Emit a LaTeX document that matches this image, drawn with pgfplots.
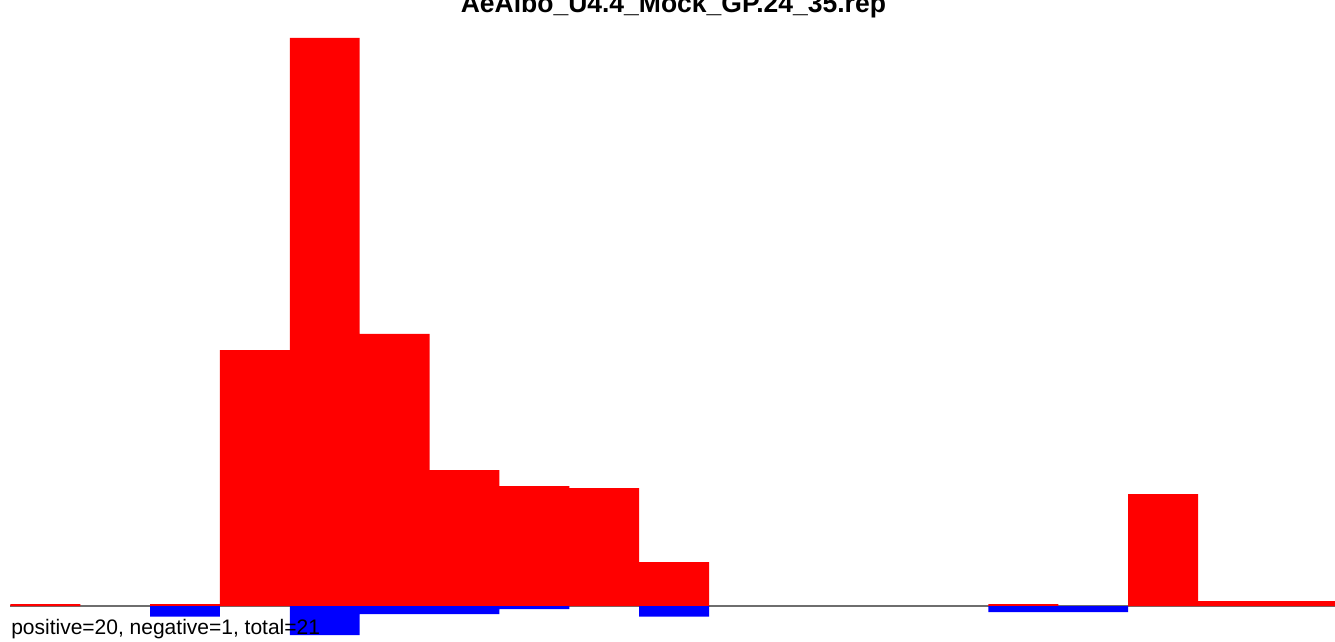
\documentclass[border=0pt]{standalone}
\usepackage{pgfplots}
\pgfplotsset{compat=1.18}
\usepackage{fontspec}
\setmainfont{Liberation Sans}
\begin{document}
\begin{tikzpicture}
\begin{axis}[
  width=1335bp, height=641bp, scale only axis,
  xmin=-0.1489, xmax=18.961, ymin=-35, ymax=606,
  axis lines=none, ticks=none, clip=true,
]
\coordinate (bl) at (rel axis cs:0,0);
\coordinate (tr) at (rel axis cs:1,1);
% baseline
\addplot[draw={rgb,255:red,110;green,110;blue,110}, line width=1.2bp, no markers] coordinates {(0,0) (19,0)};
% positive (red)
\addplot[ybar, bar width=1, bar shift=0pt, fill={rgb,255:red,255;green,0;blue,0}, draw=none] coordinates {
 (0.5,2) (2.5,2) (3.5,256) (4.5,568) (5.5,272) (6.5,136) (7.5,120) (8.5,118) (9.5,44)
 (14.5,2) (16.5,112) (17.5,5) (18.5,5)};
% negative (blue)
\addplot[ybar, bar width=1, bar shift=0pt, fill={rgb,255:red,0;green,0;blue,255}, draw=none] coordinates {
 (2.5,-10.7) (4.5,-29) (5.5,-8) (6.5,-8) (7.5,-3) (9.5,-10.7) (14.5,-6) (15.5,-6)};
\end{axis}
\begin{axis}[
  width=1335bp, height=641bp, scale only axis,
  xmin=-0.1489, xmax=18.961, ymin=-35, ymax=606,
  axis lines=none, ticks=none, clip=false,
]
\node[anchor=base west, inner sep=0pt, font=\fontsize{21bp}{24bp}\selectfont] at (axis cs:0.0093,-28) {positive=20, negative=1, total=21};
\node[anchor=base, inner sep=0pt, font=\fontsize{26.5bp}{30bp}\selectfont\bfseries] at (axis cs:9.49,593.7) {AeAlbo\_U4.4\_Mock\_GP.24\_35.rep};
\end{axis}
\pgfresetboundingbox
\useasboundingbox (bl) rectangle (tr);
\end{tikzpicture}
\end{document}
